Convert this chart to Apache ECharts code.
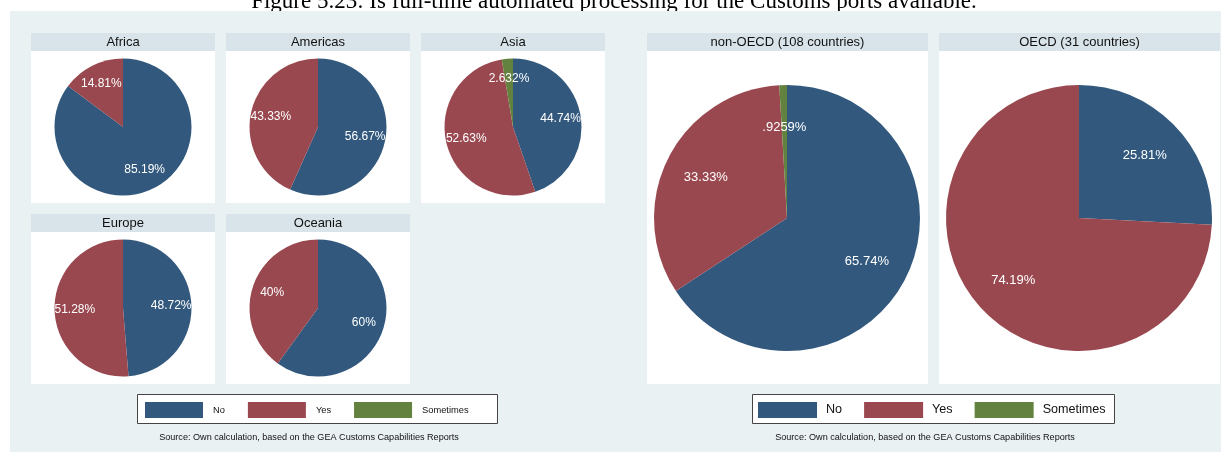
<!DOCTYPE html>
<html>
<head>
<meta charset="utf-8">
<script src="https://cdn.jsdelivr.net/npm/echarts@6/dist/echarts.min.js"></script>
<style>
  html, body { margin: 0; padding: 0; background: #fff; }
  #chart { width: 1228px; height: 452px; }
</style>
</head>
<body>
<div id="chart"></div>
<script>
// counts of countries per answer
var answers = ['No', 'Yes', 'Sometimes'];
var regions = ['Africa', 'Americas', 'Asia', 'Europe', 'Oceania'];
var regionNo = [23, 17, 17, 19, 3];
var regionYes = [4, 13, 20, 20, 2];
var regionSometimes = [0, 0, 1, 0, 0];
var groups = ['non-OECD (108 countries)', 'OECD (31 countries)'];
var groupNo = [71, 8];
var groupYes = [36, 23];
var groupSometimes = [1, 0];

var colors = { No: '#32597d', Yes: '#9a4850', Sometimes: '#63823f' };
var font = 'Liberation Sans, Arial, sans-serif';
var source = 'Source: Own calculation, based on the GEA Customs Capabilities Reports';

var myChart = echarts.init(document.getElementById('chart'));

// Stata style %9.4g percent
function pct(v, total) {
  var s = String(Number((v / total * 100).toPrecision(4)));
  return s.replace(/^0\./, '.') + '%';
}

function items(no, yes, some) {
  var vals = [no, yes, some];
  var out = [];
  vals.forEach(function (v, i) {
    if (v > 0) out.push({ name: answers[i], value: v, itemStyle: { color: colors[answers[i]] } });
  });
  return out;
}

var graphic = [];
var pies = [];
var labels = [];

// caption, cut off at the top of the page
graphic.push({ type: 'text', left: 'center', top: -10, z: 0,
  style: { text: 'Figure 5.23: Is full-time automated processing for the Customs ports available.',
    font: '23px Liberation Serif, Times New Roman, serif', fill: '#000' } });
// background of both graphs
graphic.push({ type: 'rect', shape: { x: 10, y: 11, width: 1211, height: 441 }, style: { fill: '#eaf1f3' }, z: 1 });

function panel(x, y, w, h, title, fs) {
  graphic.push({ type: 'rect', shape: { x: x, y: y, width: w, height: 18 }, style: { fill: '#d8e4ea' }, z: 2 });
  graphic.push({ type: 'rect', shape: { x: x, y: y + 18, width: w, height: h - 18 }, style: { fill: '#fff' }, z: 2 });
  graphic.push({ type: 'text', x: x + w / 2, y: y + 9.5, z: 3,
    style: { text: title, font: fs + 'px ' + font, fill: '#111', align: 'center', verticalAlign: 'middle' } });
}

function addPie(data, cx, cy, r, fs) {
  var total = data.reduce(function (a, d) { return a + d.value; }, 0);
  pies.push({ type: 'pie', center: [cx, cy], radius: [0, r], startAngle: 90, clockwise: true,
    silent: true, animation: false, label: { show: false }, labelLine: { show: false }, data: data });
  labels.push({ type: 'pie', center: [cx, cy], radius: [0, r * 1.32], startAngle: 90, clockwise: true,
    silent: true, animation: false, labelLine: { show: false },
    itemStyle: { color: 'rgba(0,0,0,0)' },
    label: { show: true, position: 'inside', color: '#fff', fontFamily: font, fontSize: fs,
      formatter: function (p) { return pct(p.value, total); } },
    data: data.map(function (d) { return { name: d.name, value: d.value }; }) });
}

var colX = [31, 226, 421];
var rowY = [33, 214];
regions.forEach(function (name, i) {
  var x = colX[i % 3], y = rowY[Math.floor(i / 3)];
  panel(x, y, 184, 170, name, 13);
  addPie(items(regionNo[i], regionYes[i], regionSometimes[i]), x + 92, y + 94, 68.5, 12);
});

var bigX = [647, 939];
groups.forEach(function (name, i) {
  panel(bigX[i], 33, 281, 351, name, 13);
  addPie(items(groupNo[i], groupYes[i], groupSometimes[i]), bigX[i] + 140, 218, 133, 13);
});

// legend frames and source notes
graphic.push({ type: 'rect', shape: { x: 137.5, y: 394.5, width: 360, height: 29 }, style: { fill: '#fff', stroke: '#444', lineWidth: 1 }, z: 2 });
graphic.push({ type: 'rect', shape: { x: 752.5, y: 394.5, width: 362, height: 29 }, style: { fill: '#fff', stroke: '#444', lineWidth: 1 }, z: 2 });
graphic.push({ type: 'text', x: 309, y: 437, z: 3,
  style: { text: source, font: '9.1px ' + font, fill: '#111', align: 'center', verticalAlign: 'middle' } });
graphic.push({ type: 'text', x: 925, y: 437, z: 3,
  style: { text: source, font: '9.1px ' + font, fill: '#111', align: 'center', verticalAlign: 'middle' } });

var option = {
  animation: false,
  graphic: graphic,
  legend: [
    { data: answers, left: 145, top: 402, orient: 'horizontal', icon: 'rect',
      itemWidth: 58, itemHeight: 16, itemGap: 23, selectedMode: false, padding: 0, z: 5,
      textStyle: { fontFamily: font, fontSize: 9.3, color: '#111', padding: [0, 0, 0, 5] } },
    { data: answers, left: 758, top: 402, orient: 'horizontal', icon: 'rect',
      itemWidth: 59, itemHeight: 16, itemGap: 22, selectedMode: false, padding: 0, z: 5,
      textStyle: { fontFamily: font, fontSize: 12.6, color: '#111', padding: [0, 0, 0, 4] } }
  ],
  series: pies.concat(labels)
};
myChart.setOption(option);
</script>
</body>
</html>
